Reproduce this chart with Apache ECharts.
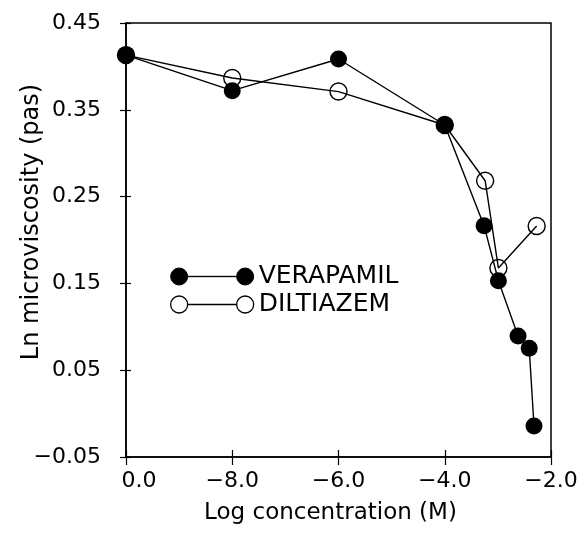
<!DOCTYPE html>
<html>
<head>
<meta charset="utf-8">
<script src="https://cdn.jsdelivr.net/npm/echarts@6/dist/echarts.min.js"></script>
<style>
html, body { margin: 0; padding: 0; background: #fff; }
#chart { width: 583px; height: 539px; }
</style>
</head>
<body>
<div id="chart"></div>
<script>
var chart = echarts.init(document.getElementById('chart'));

// control sits at the left end of the axis and is labelled 0.0
var verapamilX = [-10, -8, -6, -4, -3.26, -2.99, -2.62, -2.41, -2.32];
var verapamilY = [0.413, 0.372, 0.4085, 0.3325, 0.2165, 0.153, 0.0894, 0.0752, -0.0143];
var diltiazemX = [-10, -8, -6, -4, -3.24, -2.99, -2.27];
var diltiazemY = [0.413, 0.3866, 0.371, 0.3325, 0.2683, 0.1677, 0.2161];

var seriesNames = ['VERAPAMIL', 'DILTIAZEM'];
var xName = 'Log concentration (M)';
var yName = 'Ln microviscosity (pas)';

var fontFamily = 'DejaVu Sans';
var MINUS = '\u2212';

function pairs(xs, ys) {
    var res = [];
    for (var i = 0; i < xs.length; i++) {
        res.push([xs[i], ys[i]]);
    }
    return res;
}

// circle - line - circle legend glyph
var legendIcon = 'path://M0,8.5 A8.5,8.5 0 1,0 17,8.5 A8.5,8.5 0 1,0 0,8.5 Z' +
    'M66,8.5 A8.5,8.5 0 1,0 83,8.5 A8.5,8.5 0 1,0 66,8.5 Z' +
    'M17,8.3 L66,8.3 L66,8.7 L17,8.7 Z';

var xLabel = function (v) {
    if (v === -10) return '{z|0.0}';
    return (v < 0 ? MINUS : '') + Math.abs(v).toFixed(1);
};
var yLabel = function (v) {
    var s = Math.abs(v).toFixed(2);
    return (v < -0.0001 ? MINUS : '') + s;
};

var baseX = {
    type: 'value',
    min: -10,
    max: -2,
    interval: 2,
    position: 'bottom',
    splitLine: { show: false }
};
var baseY = {
    type: 'value',
    min: -0.05,
    max: 0.45,
    interval: 0.1,
    position: 'left',
    splitLine: { show: false }
};

option = {
    animation: false,
    backgroundColor: '#fff',
    grid: {
        left: 126,
        top: 23,
        right: 32,
        bottom: 82,
        outerBoundsMode: 'none',
        show: true,
        borderColor: '#000',
        borderWidth: 1.5
    },
    legend: {
        orient: 'vertical',
        left: 165,
        top: 259,
        itemWidth: 83,
        itemHeight: 17,
        itemGap: 3,
        textStyle: {
            fontFamily: fontFamily,
            fontSize: 25,
            color: '#000'
        },
        data: [
            {
                name: seriesNames[0],
                icon: legendIcon,
                itemStyle: { color: '#000', borderColor: '#000', borderWidth: 1 }
            },
            {
                name: seriesNames[1],
                icon: legendIcon,
                itemStyle: { color: 'rgba(0,0,0,0)', borderColor: '#000', borderWidth: 1.3 }
            }
        ]
    },
    xAxis: [
        Object.assign({}, baseX, {
            name: xName,
            nameLocation: 'middle',
            nameGap: 45,
            nameMoveOverlap: false,
            nameTextStyle: {
                fontFamily: fontFamily,
                fontSize: 23,
                color: '#000',
                padding: [0, 16, 0, 0]
            },
            axisLine: { onZero: false, lineStyle: { color: '#000', width: 1.5 } },
            axisTick: { inside: false, length: 8, lineStyle: { color: '#000', width: 1.2 } },
            axisLabel: {
                margin: 13,
                fontFamily: fontFamily,
                fontSize: 22,
                color: '#000',
                formatter: xLabel,
                rich: {
                    z: { fontFamily: fontFamily, fontSize: 22, color: '#000', padding: [0, 0, 0, 26] }
                }
            }
        }),
        Object.assign({}, baseX, {
            axisLine: { show: false, onZero: false },
            axisTick: { inside: true, length: 7, lineStyle: { color: '#000', width: 1.2 } },
            axisLabel: { show: false }
        })
    ],
    yAxis: [
        Object.assign({}, baseY, {
            name: yName,
            nameLocation: 'middle',
            nameGap: 82,
            nameMoveOverlap: false,
            nameTextStyle: {
                fontFamily: fontFamily,
                fontSize: 24,
                color: '#000',
                padding: [0, 0, 0, 36]
            },
            axisLine: { onZero: false, lineStyle: { color: '#000', width: 1.5 } },
            axisTick: { inside: false, length: 6, lineStyle: { color: '#000', width: 1.2 } },
            axisLabel: {
                margin: 25,
                fontFamily: fontFamily,
                fontSize: 22,
                color: '#000',
                formatter: yLabel
            }
        }),
        Object.assign({}, baseY, {
            axisLine: { show: false, onZero: false },
            axisTick: { inside: true, length: 5, lineStyle: { color: '#000', width: 1.2 } },
            axisLabel: { show: false }
        })
    ],
    series: [
        {
            name: seriesNames[1],
            type: 'line',
            data: pairs(diltiazemX, diltiazemY),
            symbol: 'circle',
            symbolSize: 17,
            showAllSymbol: true,
            lineStyle: { color: '#000', width: 1.4 },
            itemStyle: { color: 'rgba(0,0,0,0)', borderColor: '#000', borderWidth: 1.4 },
            z: 2
        },
        {
            name: seriesNames[0],
            type: 'line',
            data: pairs(verapamilX, verapamilY),
            symbol: 'circle',
            symbolSize: 17,
            showAllSymbol: true,
            lineStyle: { color: '#000', width: 1.4 },
            itemStyle: { color: '#000' },
            z: 3
        }
    ]
};

chart.setOption(option);
</script>
</body>
</html>
